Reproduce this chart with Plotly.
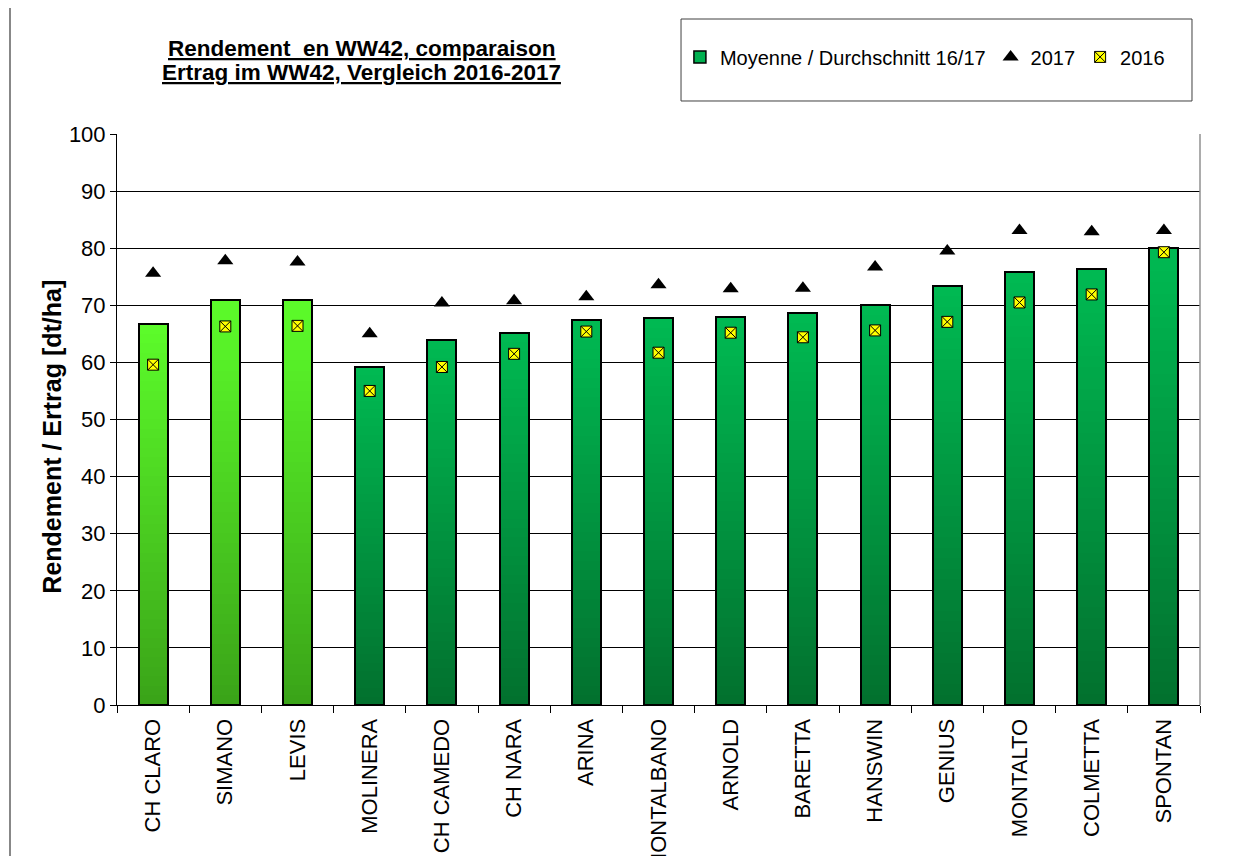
import plotly.graph_objects as go

# ---------------- data ----------------
categories = ["CH CLARO", "SIMANO", "LEVIS", "MOLINERA", "CH CAMEDO", "CH NARA", "ARINA",
              "MONTALBANO", "ARNOLD", "BARETTA", "HANSWIN", "GENIUS", "MONTALTO",
              "COLMETTA", "SPONTAN"]
mean_1617 = [66.7, 71.0, 71.0, 59.2, 64.0, 65.2, 67.4, 67.7, 67.9, 68.7, 70.1, 73.4, 75.8, 76.3, 80.0]
yield_2017 = [75.6, 77.8, 77.6, 65.0, 70.4, 70.8, 71.5, 73.6, 72.9, 73.0, 76.7, 79.5, 83.1, 82.9, 83.1]
yield_2016 = [59.6, 66.3, 66.4, 55.0, 59.2, 61.5, 65.4, 61.7, 65.2, 64.4, 65.6, 67.1, 70.5, 71.9, 79.3]
bar_group = ["light", "light", "light"] + ["dark"] * 12
title_lines = ["Rendement  en WW42, comparaison", "Ertrag im WW42, Vergleich 2016-2017"]
y_title = "Rendement / Ertrag [dt/ha]"

# ---------------- styles ----------------
FONT = "Liberation Sans, Arial, sans-serif"
grad = {"light": ((0x3A, 0xA3, 0x18), (0x5C, 0xFC, 0x2A)),
        "dark": ((0x02, 0x70, 0x2E), (0x00, 0xBA, 0x52))}
N_SEG = 40


def seg_color(group, i):
    (r0, g0, b0), (r1, g1, b1) = grad[group]
    t = (i + 0.5) / N_SEG
    return "rgb(%d,%d,%d)" % (round(r0 + (r1 - r0) * t), round(g0 + (g1 - g0) * t), round(b0 + (b1 - b0) * t))


fig = go.Figure()

# gradient-filled bars built from stacked slices
for i in range(N_SEG):
    cols = [seg_color(g, i) for g in bar_group]
    fig.add_trace(go.Bar(
        x=categories, y=[v / N_SEG for v in mean_1617],
        marker=dict(color=cols, line=dict(width=0)),
        showlegend=False, hoverinfo="skip", xaxis="x", yaxis="y"))

# legend entry for the mean bars
fig.add_trace(go.Bar(
    x=[None], y=[None], name="Moyenne / Durchschnitt 16/17",
    marker=dict(color="#00B050", line=dict(color="black", width=1.5)),
    xaxis="x2", yaxis="y"))

# bar outlines
fig.add_trace(go.Bar(
    x=categories, y=mean_1617, showlegend=False,
    marker=dict(color="rgba(0,0,0,0)", line=dict(color="black", width=2)),
    xaxis="x2", yaxis="y"))

fig.add_trace(go.Scatter(
    x=categories, y=yield_2017, mode="markers", name="2017",
    marker=dict(symbol="triangle-up", size=14, color="black"),
    xaxis="x2", yaxis="y"))

fig.add_trace(go.Scatter(
    x=categories, y=yield_2016, mode="markers", name="2016",
    marker=dict(symbol="square-x", size=11, color="#FFFF00", line=dict(color="black", width=1)),
    xaxis="x2", yaxis="y"))

fig.update_layout(
    width=1242, height=848,
    margin=dict(l=109, r=50, t=126, b=151, autoexpand=False),
    paper_bgcolor="white", plot_bgcolor="white",
    font=dict(family=FONT, size=20, color="black"),
    barmode="stack", bargap=0.6,
    showlegend=True,
    legend=dict(orientation="h", x=0.746, y=1.135, xanchor="center", yanchor="middle",
                bgcolor="rgba(0,0,0,0)", borderwidth=0, font=dict(size=20),
                itemwidth=30, traceorder="normal"),
    xaxis=dict(type="category", categoryorder="array", categoryarray=categories,
               tickangle=-90, tickson="boundaries", ticks="outside", ticklen=7,
               tickcolor="black", showline=True, linecolor="black", linewidth=1,
               showgrid=False, tickfont=dict(size=22), ticklabelstandoff=4,
               automargin=False, range=[-0.5, len(categories) - 0.5]),
    xaxis2=dict(type="category", categoryorder="array", categoryarray=categories,
                overlaying="x", matches="x", visible=False, automargin=False,
                range=[-0.5, len(categories) - 0.5]),
    yaxis=dict(range=[0, 100], dtick=10, ticks="outside", ticklen=6, tickcolor="black",
               showline=True, linecolor="black", linewidth=1,
               showgrid=True, gridcolor="black", gridwidth=1, zeroline=False,
               tickfont=dict(size=22), automargin=False),
    annotations=[
        dict(text="<b><u>%s</u></b>" % title_lines[0], xref="paper", yref="paper",
             x=0.2262, y=1.1505, xanchor="center", yanchor="middle",
             showarrow=False, font=dict(size=22.5, family=FONT)),
        dict(text="<b><u>%s</u></b>" % title_lines[1], xref="paper", yref="paper",
             x=0.2262, y=1.1085, xanchor="center", yanchor="middle",
             showarrow=False, font=dict(size=22.5, family=FONT)),
        dict(text="<b>%s</b>" % y_title, xref="paper", yref="paper",
             x=-0.0600, y=0.470, xanchor="center", yanchor="middle", textangle=-90,
             showarrow=False, font=dict(size=25, family=FONT)),
    ],
    shapes=[
        dict(type="rect", xref="paper", yref="paper", x0=0.5208, x1=0.9926, y0=1.0578, y1=1.2014,
             line=dict(color="#404040", width=1)),
        dict(type="line", xref="paper", yref="paper", x0=1, x1=1, y0=0, y1=1,
             line=dict(color="#909090", width=1.5)),
        dict(type="line", xref="paper", yref="paper", x0=-0.0988, x1=-0.0988, y0=-0.27, y1=1.24,
             line=dict(color="#606060", width=1.5)),
    ],
)

fig.write_html("out.html")
